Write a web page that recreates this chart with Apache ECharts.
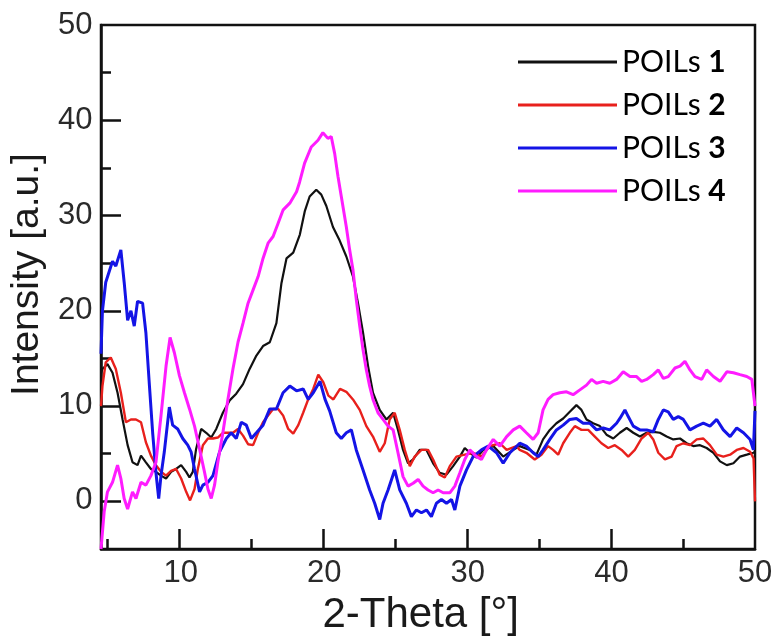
<!DOCTYPE html>
<html>
<head>
<meta charset="utf-8">
<script src="https://cdn.jsdelivr.net/npm/echarts@6/dist/echarts.min.js"></script>
<style>
  html, body { margin: 0; padding: 0; background: #fff; }
  #chart { width: 779px; height: 641px; }
</style>
</head>
<body>
<div id="chart"></div>
<script>
// POILs 1 (black)
const p1X = [4.55,4.65,5.0,5.35,5.7,6.05,6.4,6.74,7.09,7.33,7.67,8.02,8.37,8.72,9.07,9.42,9.77,10.12,10.47,10.7,10.93,11.16,11.51,11.86,12.21,12.56,13.02,13.49,13.95,14.42,14.88,15.35,15.81,16.28,16.74,17.09,17.44,17.91,18.37,18.72,19.05,19.51,19.86,20.21,20.67,21.13,21.6,22.06,22.41,22.76,23.11,23.45,23.92,24.38,24.85,25.19,25.54,25.89,26.24,26.7,27.17,27.63,28.09,28.56,29.02,29.49,29.83,30.18,30.65,31.11,31.81,32.5,33.2,33.65,34.35,34.81,35.27,35.74,36.2,36.67,37.13,37.59,37.94,38.29,38.75,39.22,39.68,40.15,40.61,41.08,41.54,42.0,42.47,42.93,43.39,43.86,44.32,44.79,45.25,45.71,46.18,46.64,47.11,47.57,48.04,48.5,48.96,49.43,49.89,50];
const p1Y = [13.5,13.9,14.4,13.5,11.4,8.6,5.9,4.1,3.8,4.8,4.1,3.4,3.1,2.7,2.4,3.1,3.4,3.8,3.1,2.5,3.1,5.5,7.6,7.2,6.7,7.6,9.3,10.6,11.3,12.3,13.9,15.3,16.3,16.7,18.7,22.9,25.5,26.1,28.0,30.5,32.0,32.7,32.2,31.0,28.8,27.4,25.7,23.6,20.8,17.7,14.2,11.4,9.6,8.6,9.3,7.5,5.4,4.0,4.4,5.4,5.4,4.0,3.0,2.8,3.7,4.7,5.6,5.1,4.6,5.4,5.8,4.7,5.4,5.8,5.4,4.9,6.5,7.5,8.2,8.7,9.4,10.1,9.6,8.6,8.2,7.9,7.0,6.6,7.2,7.7,7.2,6.8,7.2,7.3,7.2,6.8,6.5,6.6,6.1,5.8,5.9,5.6,5.1,4.2,3.8,4.0,4.7,4.9,5.1,5.2];

// POILs 2 (red)
const p2X = [4.55,4.65,4.88,5.23,5.58,5.93,6.28,6.63,6.98,7.33,7.67,8.02,8.37,8.72,9.07,9.42,9.77,10.12,10.47,10.74,11.05,11.28,11.63,11.98,12.33,12.67,13.02,13.37,13.72,14.07,14.42,14.77,15.12,15.47,15.81,16.16,16.51,16.86,17.21,17.56,17.91,18.26,18.6,18.95,19.3,19.65,20.0,20.35,20.7,21.16,21.6,22.06,22.53,22.99,23.45,23.92,24.27,24.61,24.96,25.31,25.66,26.01,26.35,26.82,27.28,27.63,28.09,28.44,28.79,29.25,29.83,30.41,30.99,31.57,32.27,32.74,33.43,33.65,34.11,34.69,35.16,35.62,35.97,36.32,36.67,37.13,37.48,37.94,38.41,38.87,39.33,39.8,40.26,40.73,41.19,41.65,42.12,42.58,42.93,43.28,43.74,44.21,44.55,45.02,45.48,45.95,46.41,46.87,47.34,47.8,48.27,48.73,49.2,49.66,49.9,50];
const p2Y = [10,12.1,14.6,15.1,13.9,11.4,8.3,8.6,8.6,8.3,6.2,4.8,3.8,3.1,2.7,3.2,3.4,2.4,1.0,0.1,1.3,3.4,5.9,6.6,6.6,6.7,7.2,7.2,7.2,7.6,6.9,6.0,5.9,7.2,8.3,9.0,9.7,9.7,9.0,7.6,7.1,8.0,9.3,10.7,11.8,13.3,12.5,11.1,10.7,11.8,11.5,10.7,9.6,7.9,6.8,5.2,6.1,8.6,9.3,7.5,5.4,3.7,4.7,5.4,5.4,4.4,2.8,2.5,3.7,4.7,4.9,5.1,4.7,5.8,6.1,5.4,5.8,5.4,5.1,4.4,4.9,5.8,5.4,4.9,6.1,7.2,7.9,7.5,7.5,6.8,6.1,5.6,5.9,5.4,4.7,5.4,6.6,7.2,6.5,5.1,4.4,4.7,5.8,6.1,5.9,6.5,6.6,5.9,4.9,4.7,4.9,5.4,5.6,5.2,4.5,0];

// POILs 3 (blue)
const p3X = [4.55,4.65,4.88,5.35,5.58,5.93,6.16,6.4,6.63,6.86,7.09,7.44,7.67,7.9,8.14,8.37,8.56,8.72,8.95,9.3,9.53,9.88,10.23,10.58,10.81,11.05,11.4,11.63,11.98,12.33,12.79,13.26,13.6,13.95,14.3,14.65,15.0,15.35,15.81,16.28,16.74,17.2,17.67,18.14,18.6,18.95,19.3,19.77,20.12,20.44,20.9,21.25,21.6,21.95,22.29,22.76,23.22,23.57,23.92,24.15,24.5,24.96,25.31,25.77,26.12,26.47,26.82,27.17,27.51,27.86,28.21,28.56,28.91,29.14,29.49,29.95,30.41,30.99,31.46,32.04,32.5,32.97,33.65,34.11,34.58,34.93,35.27,35.74,36.2,36.67,37.13,37.59,38.06,38.52,38.99,39.45,39.91,40.38,40.61,40.96,41.19,41.54,42.0,42.47,42.93,43.28,43.63,43.97,44.32,44.67,45.02,45.48,45.95,46.41,46.87,47.34,47.8,48.27,48.73,49.2,49.66,49.89,50];
const p3Y = [15.5,20,23,25.2,24.7,26.4,23,19,20,18.4,21,20.8,17.7,12.5,7.2,3,0.3,2.7,5.2,9.9,8,7.6,6.6,5.9,5.2,3.4,1,1.7,2,2.7,5.2,6.6,7.2,6.6,8.3,8,6.6,7.2,8,9.7,9.7,11.4,12.1,11.6,11.8,10.7,11.4,12.6,10.7,9.5,7.2,6.6,7.2,7.5,5.4,3.3,1.2,-0.2,-1.9,-0.2,1.2,3.3,1.2,-0.2,-1.6,-0.9,-1.2,-0.9,-1.6,-0.2,0.2,-0.2,0.2,-0.9,1.6,3.3,4.7,5.4,5.8,5.1,4,5.1,6.1,5.8,5.1,4.7,5.4,6.5,7.5,8,8.6,8.7,8.2,8.2,7.5,7.7,7.5,8.2,8.7,9.6,8.9,7.9,7.5,7.5,7.3,8.6,9.6,9.4,8.6,8.9,8.6,7.5,7.9,8.2,7.9,8.6,7.5,6.8,7.7,7.2,6.5,5.4,9.5];

// POILs 4 (magenta)
const p4X = [4.55,4.77,5.0,5.35,5.7,5.93,6.16,6.4,6.74,6.98,7.33,7.67,8.02,8.37,8.72,9.07,9.35,9.65,10.0,10.35,10.7,11.05,11.4,11.74,11.98,12.21,12.44,12.67,13.02,13.37,13.72,14.07,14.42,14.77,15.12,15.47,15.81,16.16,16.51,16.86,17.21,17.67,18.14,18.35,18.7,19.16,19.63,19.97,20.32,20.55,20.79,21.02,21.25,21.6,21.83,22.06,22.29,22.53,22.76,22.99,23.22,23.45,23.8,24.15,24.5,24.85,25.19,25.54,25.89,26.24,26.59,26.93,27.28,27.63,27.98,28.33,28.79,29.14,29.49,29.83,30.18,30.65,30.99,31.34,31.81,32.27,32.74,33.2,33.65,34.11,34.58,34.93,35.27,35.62,35.97,36.43,36.9,37.36,37.83,38.29,38.64,38.99,39.45,39.91,40.38,40.84,41.31,41.77,42.12,42.47,42.93,43.28,43.63,43.97,44.44,44.79,45.13,45.48,45.83,46.3,46.64,47.11,47.57,48.04,48.5,48.96,49.43,49.78,49.89,50];
const p4Y = [-5,-1.1,1,2,3.8,2.4,0.3,-0.8,1,0.3,2,1.7,2.7,4.1,9,14.2,17.2,15.6,13.2,11.4,9.7,7.9,5.5,3.1,1.3,0.3,1.7,4.1,7.2,10.7,13.9,16.7,18.7,20.8,22.2,23.6,25.5,27.1,27.8,29.2,30.6,31.3,32.5,33.5,35.5,37.2,37.9,38.7,38.1,38.3,36.5,34.1,32,28.8,26.4,24.3,21.2,18.4,15.9,13.8,12.1,10.7,9.3,8.6,7.9,7.5,5.1,2.6,1.6,1.9,2.3,1.6,1.2,0.9,1.2,0.9,0.9,1.6,3,4.4,5.4,4.7,4.4,5.4,6.5,5.8,6.8,7.5,7.9,7.2,6.5,7.2,9.6,10.7,11.2,11.4,11.5,11.2,11.7,12.2,12.8,12.4,12.6,12.4,12.8,13.6,13.1,13.1,12.6,12.8,13.3,13.8,12.9,13.1,14,14.2,14.7,13.8,13.1,12.8,13.8,13.1,12.6,13.6,13.5,13.3,13.1,12.8,11.4,10];

const seriesNames = ['POILs 1', 'POILs 2', 'POILs 3', 'POILs 4'];
const seriesColors = ['#111111', '#e8201c', '#1414e6', '#ff1cff'];
const seriesWidths = [2.2, 2.4, 3, 3];

// tick labels, and where the long / short inner ticks go
const xLabels = [10, 20, 30, 40, 50];
const yLabels = [0, 10, 20, 30, 40, 50];
const xMajor = [10, 20, 30, 40];
const xMinor = [5, 15, 25, 35, 45];
const yMajor = [0, 10, 20, 30, 40];
const yMinor = [5, 15, 25, 35, 45];

const zip = (xs, ys) => xs.map((x, i) => [x, ys[i]]);
const allX = [p1X, p2X, p3X, p4X];
const allY = [p1Y, p2Y, p3Y, p4Y];

const chart = echarts.init(document.getElementById('chart'));

const numFont = 'Liberation Sans';
const box = { left: 101, right: 24, top: 25, bottom: 92 };
const X_RANGE = [4.55, 50];
const Y_RANGE = [-5, 50];

// ticks live in grid 0; labels go on a twin grid 1 laid over it, because
// ticks that share a grid with a label at the same value were not drawn
const tickAxis = (range, pos, values, len, showLine) => ({
  type: 'value',
  gridIndex: 0,
  min: range[0],
  max: range[1],
  position: pos,
  splitLine: { show: false },
  axisLine: { show: showLine, onZero: false, lineStyle: { color: '#111', width: 2.5 } },
  axisTick: { show: true, inside: true, length: len, customValues: values, lineStyle: { color: '#111', width: 2.5 } },
  axisLabel: { show: false },
});

const labelAxis = (range, pos, values, name, nameGap, nameStyle) => ({
  type: 'value',
  gridIndex: 1,
  min: range[0],
  max: range[1],
  position: pos,
  splitLine: { show: false },
  axisLine: { show: false, onZero: false },
  axisTick: { show: false },
  axisLabel: { customValues: values, fontFamily: numFont, fontSize: 31, color: '#2a2a2a', margin: 10 },
  name: name,
  nameLocation: 'middle',
  nameGap: nameGap,
  nameTextStyle: nameStyle,
});

chart.setOption({
  animation: false,
  backgroundColor: '#fff',
  grid: [
    Object.assign({ show: true, borderColor: '#111', borderWidth: 2.5 }, box),
    Object.assign({ show: false }, box),
  ],
  legend: {
    orient: 'vertical',
    left: 513,
    top: 42,
    itemWidth: 99,
    itemHeight: 14,
    itemGap: 13,
    icon: 'path://M0,0 L99,0 L99,3 L0,3 Z',
    data: seriesNames,
    formatter: (name) => {
      const [a, b] = name.split(' ');
      return `{n|${a} }{b|${b}}`;
    },
    textStyle: {
      rich: {
        n: { fontFamily: 'Lato', fontSize: 30, color: '#000', lineHeight: 30 },
        b: { fontFamily: 'Lato', fontSize: 30, fontWeight: 'bold', color: '#000', lineHeight: 30 },
      },
    },
  },
  xAxis: [
    tickAxis(X_RANGE, 'bottom', xMajor, 20, true),
    tickAxis(X_RANGE, 'bottom', xMinor, 10, false),
    labelAxis(X_RANGE, 'bottom', xLabels, '2-Theta [°]', 36,
      { fontFamily: numFont, fontSize: 42, color: '#1a1a1a', padding: [0, 16, 0, 0] }),
  ],
  yAxis: [
    tickAxis(Y_RANGE, 'left', yMajor, 20, true),
    tickAxis(Y_RANGE, 'left', yMinor, 10, false),
    labelAxis(Y_RANGE, 'left', yLabels, 'Intensity [a.u.]', 38,
      { fontFamily: numFont, fontSize: 39, color: '#1a1a1a', padding: [0, 0, 0, 24] }),
  ],
  series: seriesNames.map((name, i) => ({
    name: name,
    type: 'line',
    xAxisIndex: 0,
    yAxisIndex: 0,
    symbol: 'none',
    color: seriesColors[i],
    lineStyle: { color: seriesColors[i], width: seriesWidths[i] },
    data: zip(allX[i], allY[i]),
  })),
});
</script>
</body>
</html>
